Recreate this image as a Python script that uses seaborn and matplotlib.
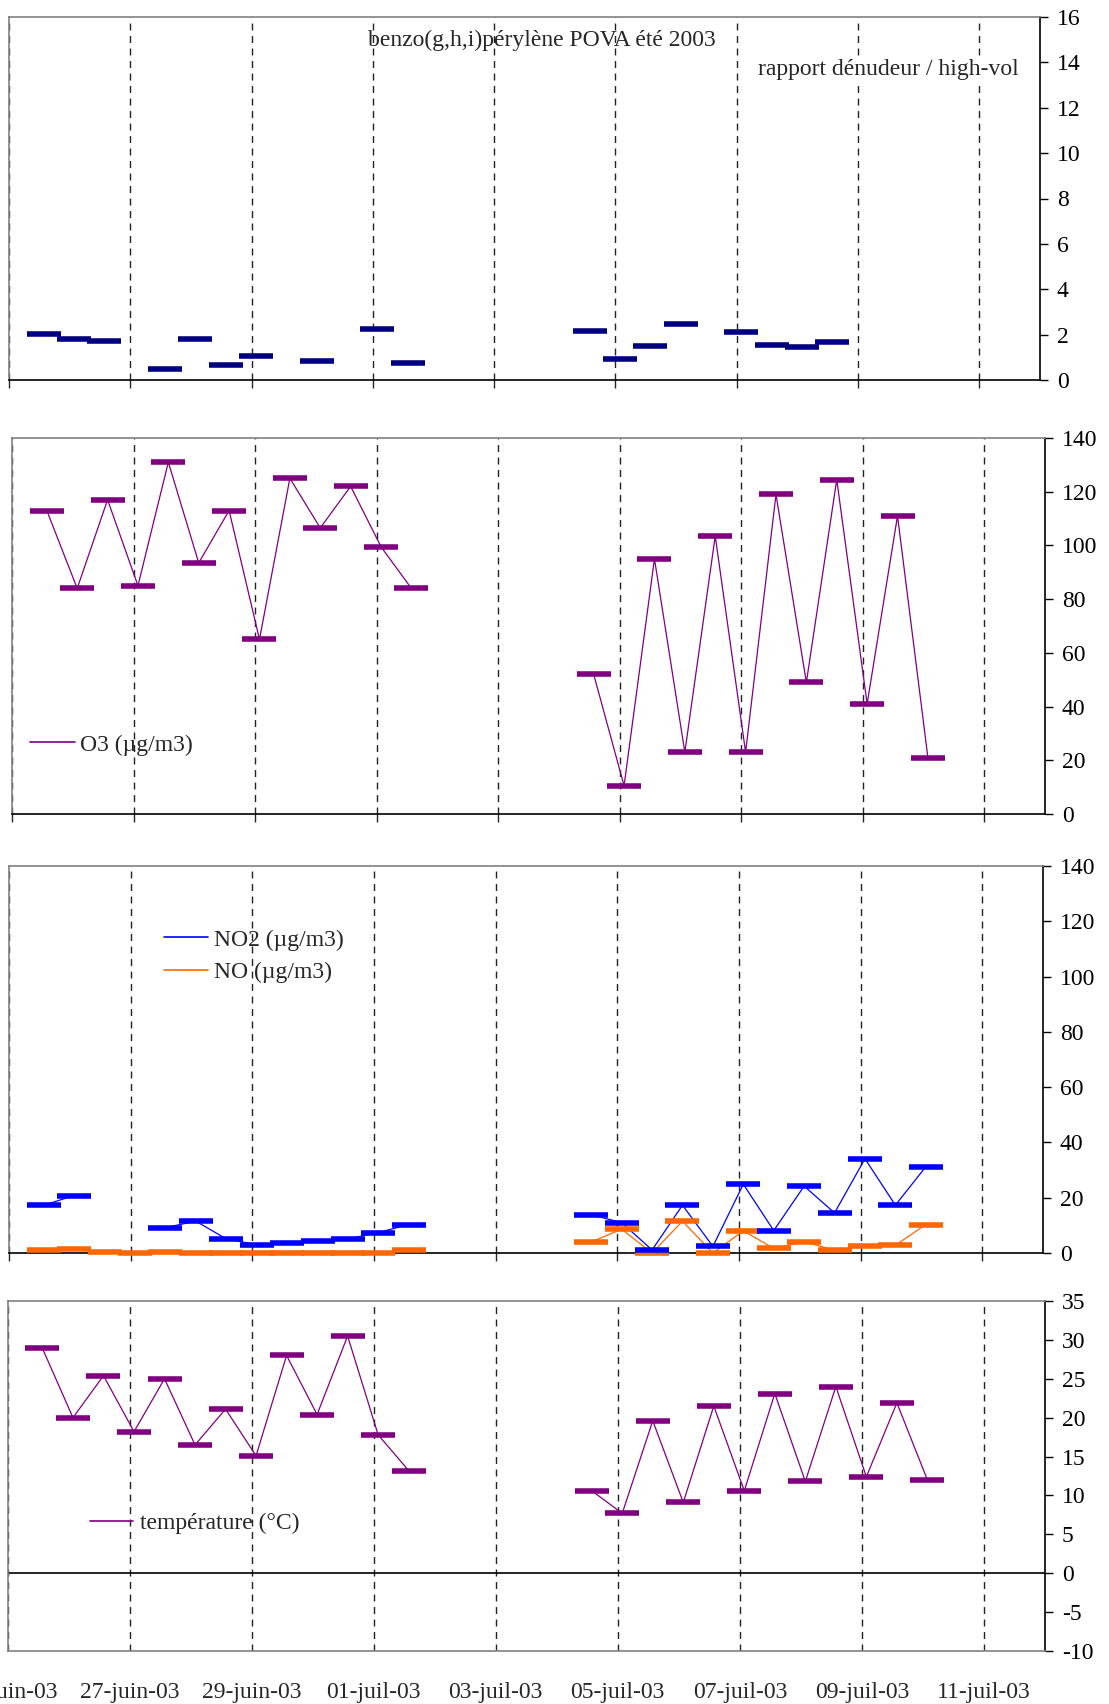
import matplotlib
matplotlib.use("Agg")
import matplotlib.pyplot as plt
from matplotlib.lines import Line2D
import numpy as np
import pandas as pd
import seaborn as sns

nan = np.nan

# half-day sampling slots, two campaigns
slots_1 = ["2003-06-25 13:45", "2003-06-26 01:45", "2003-06-26 13:45", "2003-06-27 01:45",
           "2003-06-27 13:45", "2003-06-28 01:45", "2003-06-28 13:45", "2003-06-29 01:45",
           "2003-06-29 13:45", "2003-06-30 01:45", "2003-06-30 13:45", "2003-07-01 01:45",
           "2003-07-01 13:45"]
slots_2 = ["2003-07-04 13:45", "2003-07-05 01:45", "2003-07-05 13:45", "2003-07-06 01:45",
           "2003-07-06 13:45", "2003-07-07 01:45", "2003-07-07 13:45", "2003-07-08 01:45",
           "2003-07-08 13:45", "2003-07-09 01:45", "2003-07-09 13:45", "2003-07-10 01:45"]

# benzo(g,h,i)perylene ratio denuder / high-vol
benzo_1 = [2.02, 1.8, 1.74, nan, 0.48, 1.8, 0.68, 1.04, nan, 0.84, nan, 2.24, 0.76]
benzo_2 = [2.18, 0.92, 1.48, 2.46, nan, 2.1, 1.55, 1.47, 1.68, nan, nan, nan]

o3_1 = [113, 84, 117, 85, 131, 93.5, 113, 65, 125, 106.5, 122, 99.5, 84]
o3_2 = [52, 10.5, 95, 23, 103.5, 23, 119, 49, 124.5, 41, 111, 21]

no2_1 = [17.3, 20.8, nan, nan, 9.2, 11.5, 5.1, 3.0, 3.6, 4.2, 5.1, 7.4, 10.3]
no2_2 = [13.8, 11.0, 1.1, 17.3, 2.4, 24.9, 8.1, 24.2, 14.5, 34.1, 17.3, 31.2]

no_1 = [1.0, 1.5, 0.4, 0.0, 0.5, 0.0, 0.0, 0.0, 0.0, 0.0, 0.0, 0.0, 1.2]
no_2 = [4.0, 8.6, 0.0, 11.5, 0.0, 8.0, 1.7, 4.0, 1.1, 2.4, 2.8, 10.3]

temp_1 = [28.9, 20.0, 25.4, 18.2, 25.0, 16.5, 21.1, 15.1, 28.0, 20.4, 30.5, 17.8, 13.2]
temp_2 = [10.6, 7.7, 19.6, 9.1, 21.5, 10.6, 23.1, 11.8, 24.0, 12.4, 21.9, 12.0]

tick_dates = ["2003-06-25", "2003-06-27", "2003-06-29", "2003-07-01", "2003-07-03",
              "2003-07-05", "2003-07-07", "2003-07-09", "2003-07-11"]
tick_labels = ["25-juin-03", "27-juin-03", "29-juin-03", "01-juil-03", "03-juil-03",
               "05-juil-03", "07-juil-03", "09-juil-03", "11-juil-03"]

NAVY, PURPLE, BLUE, ORANGE = "#000080", "#800080", "#0000FF", "#FF6600"
W, H = 1109, 1704


def box(left, top, right, bottom):
    # pixel box -> figure fraction
    return [left / W, 1 - bottom / H, (right - left) / W, (bottom - top) / H]


def series(v1, v2):
    df = pd.DataFrame({
        "t": pd.to_datetime(slots_1 + slots_2),
        "v": list(v1) + list(v2),
        "camp": [1] * len(slots_1) + [2] * len(slots_2),
    })
    # break the line wherever a value is missing
    gaps = df["v"].isna().astype(int).groupby(df["camp"]).cumsum()
    df["seg"] = df["camp"].astype(str) + "-" + gaps.astype(str)
    return df.dropna(subset=["v"])


def draw(ax, df, color, line=True):
    if line:
        sns.lineplot(data=df, x="t", y="v", units="seg", estimator=None, sort=False,
                     color=color, lw=0.9, ax=ax, legend=False)
    sns.scatterplot(data=df, x="t", y="v", marker="_", s=24 ** 2, linewidth=4,
                    color=color, ax=ax, legend=False, zorder=3, clip_on=False)


def style(ax, ymin, ymax, step, labels=False):
    ax.set_xlim(pd.Timestamp("2003-06-25"), pd.Timestamp("2003-07-12"))
    ax.set_ylim(ymin, ymax)
    ax.set_yticks(np.arange(ymin, ymax + step / 2, step))
    ax.yaxis.tick_right()
    ax.tick_params(axis="y", right=True, direction="out", length=6, width=1,
                   pad=6, labelsize=17, colors="black")
    ax.set_xticks(pd.to_datetime(tick_dates))
    if labels:
        ax.set_xticklabels(tick_labels)
        ax.tick_params(axis="x", bottom=True, length=0, pad=22, labelsize=17)
    else:
        ax.tick_params(axis="x", bottom=True, direction="out", length=6, width=1,
                       labelbottom=False)
    ax.grid(axis="x", color="#222222", linestyle=(0, (5, 4)), linewidth=1)
    ax.grid(axis="y", visible=False)
    ax.set_axisbelow(True)
    for s in ("top", "left"):
        ax.spines[s].set_color("#808080")
        ax.spines[s].set_linewidth(1.2)
    for s in ("right", "bottom"):
        ax.spines[s].set_color("black")
        ax.spines[s].set_linewidth(1.2)
    ax.set_xlabel("")
    ax.set_ylabel("")


sns.set_style("white")
plt.rcParams["font.family"] = ["Liberation Serif", "DejaVu Serif"]
plt.rcParams["font.size"] = 17
plt.rcParams["axes.unicode_minus"] = False

fig = plt.figure(figsize=(W / 100, H / 100), dpi=100)
ax1 = fig.add_axes(box(9, 17, 1040, 380))
ax2 = fig.add_axes(box(12, 438, 1045, 814))
ax3 = fig.add_axes(box(9, 866, 1043, 1253))
ax4 = fig.add_axes(box(7.5, 1301, 1045, 1651))

# benzo ratio, dashes only
draw(ax1, series(benzo_1, benzo_2), NAVY, line=False)
style(ax1, 0, 16, 2)
fig.text(542 / W, 1 - 40 / H, "benzo(g,h,i)pérylène POVA été 2003", ha="center", va="center")
fig.text(1019 / W, 1 - 69 / H, "rapport dénudeur / high-vol", ha="right", va="center",
         bbox=dict(facecolor="white", edgecolor="none", pad=1))

# ozone
draw(ax2, series(o3_1, o3_2), PURPLE)
style(ax2, 0, 140, 20)
ax2.legend(handles=[Line2D([], [], color=PURPLE, lw=1.2)], labels=["O3 (µg/m3)"],
           loc="center left", bbox_to_anchor=(30 / W, 1 - 745 / H), bbox_transform=fig.transFigure,
           frameon=False, handlelength=1.9, handletextpad=0.2, borderpad=0, borderaxespad=0)

# NO2 / NO
draw(ax3, series(no_1, no_2), ORANGE)
draw(ax3, series(no2_1, no2_2), BLUE)
style(ax3, 0, 140, 20)
ax3.legend(handles=[Line2D([], [], color=BLUE, lw=1.2), Line2D([], [], color=ORANGE, lw=1.2)],
           labels=["NO2 (µg/m3)", "NO (µg/m3)"],
           loc="center left", bbox_to_anchor=(164 / W, 1 - 956 / H), bbox_transform=fig.transFigure,
           frameon=False, handlelength=1.85, handletextpad=0.25, labelspacing=0.45,
           borderpad=0, borderaxespad=0)

# temperature
draw(ax4, series(temp_1, temp_2), PURPLE)
style(ax4, -10, 35, 5, labels=True)
ax4.axhline(0, color="black", lw=1.2, zorder=2)
ax4.spines["bottom"].set_color("#808080")
ax4.legend(handles=[Line2D([], [], color=PURPLE, lw=1.2)], labels=["température (°C)"],
           loc="center left", bbox_to_anchor=(90 / W, 1 - 1523 / H), bbox_transform=fig.transFigure,
           frameon=False, handlelength=1.8, handletextpad=0.3, borderpad=0, borderaxespad=0)

fig.savefig("out.png", dpi=100)
plt.close(fig)
